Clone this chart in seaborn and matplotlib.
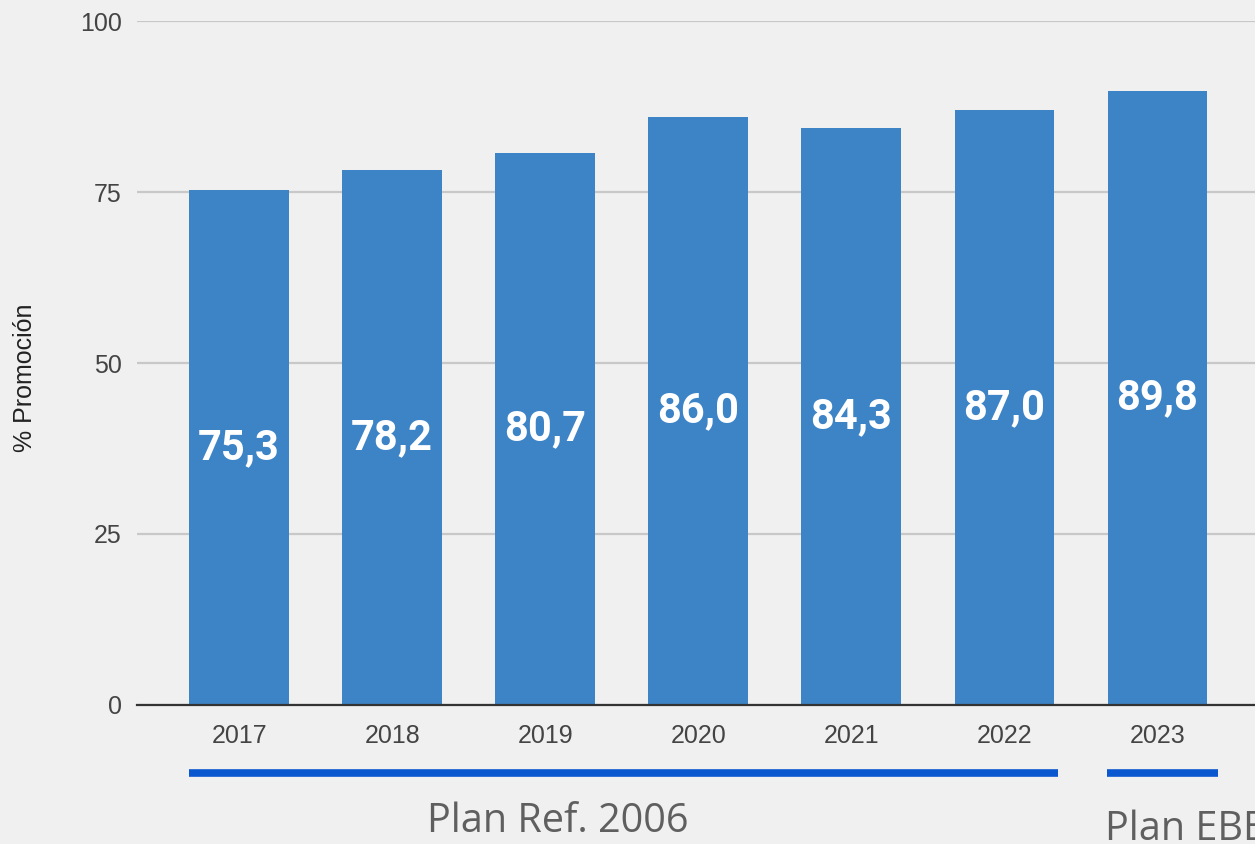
import numpy as np
import pandas as pd
import seaborn as sns
import matplotlib.pyplot as plt
import matplotlib.transforms as mtransforms

years = ["2017", "2018", "2019", "2020", "2021", "2022", "2023"]
promocion = [75.3, 78.2, 80.7, 86.0, 84.3, 87.0, 89.8]
y_ticks = [0, 25, 50, 75, 100]
plan_labels = ["Plan Ref. 2006", "Plan EBEP"]
plan_groups = [(0, 5), (6, 6)]

df = pd.DataFrame({"year": years, "value": promocion})

sns.set_theme(style="white")
plt.rcParams["font.family"] = ["Liberation Sans", "DejaVu Sans"]

bg = "#f0f0f0"
fig = plt.figure(figsize=(12.55, 8.44), dpi=100, facecolor=bg)
ax = fig.add_axes([0.1092, 0.1647, 0.93, 0.8104])
ax.set_facecolor(bg)

sns.barplot(data=df, x="year", y="value", color="#3d84c6", saturation=1,
            width=0.65, linewidth=0, edgecolor="none", ax=ax, zorder=3)

ax.set_ylim(0, 100)
ax.set_xlim(-0.667, 6.96)
ax.set_yticks(y_ticks)
ax.yaxis.grid(True, color="#c8c8c8", linewidth=1.6, zorder=0)
ax.set_axisbelow(True)
for s in ["top", "right", "left"]:
    ax.spines[s].set_visible(False)
ax.spines["bottom"].set_color("#333333")
ax.spines["bottom"].set_linewidth(1.6)
ax.spines["bottom"].set_zorder(4)
ax.tick_params(axis="both", length=0, labelsize=18, labelcolor="#444444")
ax.tick_params(axis="y", pad=11)
ax.tick_params(axis="x", pad=14)
ax.set_xlabel("")
ax.set_ylabel("% Promoción", fontsize=18, color="#222222")
ax.yaxis.set_label_coords(-0.086, 0.478)

# value labels in the middle of each bar
for i, v in enumerate(promocion):
    ax.text(i, v / 2, f"{v:.1f}".replace(".", ","), ha="center", va="center",
            color="white", fontsize=30, fontweight="bold", family="Roboto",
            zorder=5)

# plan spans under the x axis
trans = mtransforms.blended_transform_factory(ax.transData, ax.transAxes)
text_x = [2.08, 5.66]
text_y = [-0.1857, -0.197]
aligns = ["center", "left"]
end_pad = [0.35, 0.4]
for k, (a, b) in enumerate(plan_groups):
    ax.plot([a - 0.33, b + end_pad[k]], [-0.0994, -0.0994], transform=trans,
            color="#0b57d0", linewidth=5.5, solid_capstyle="butt",
            clip_on=False)
    ax.text(text_x[k], text_y[k], plan_labels[k], transform=trans,
            ha=aligns[k], va="baseline", fontsize=28.5, color="#5f5f5f",
            family="Open Sans", clip_on=False)

fig.savefig("out.png", dpi=100, facecolor=bg)
